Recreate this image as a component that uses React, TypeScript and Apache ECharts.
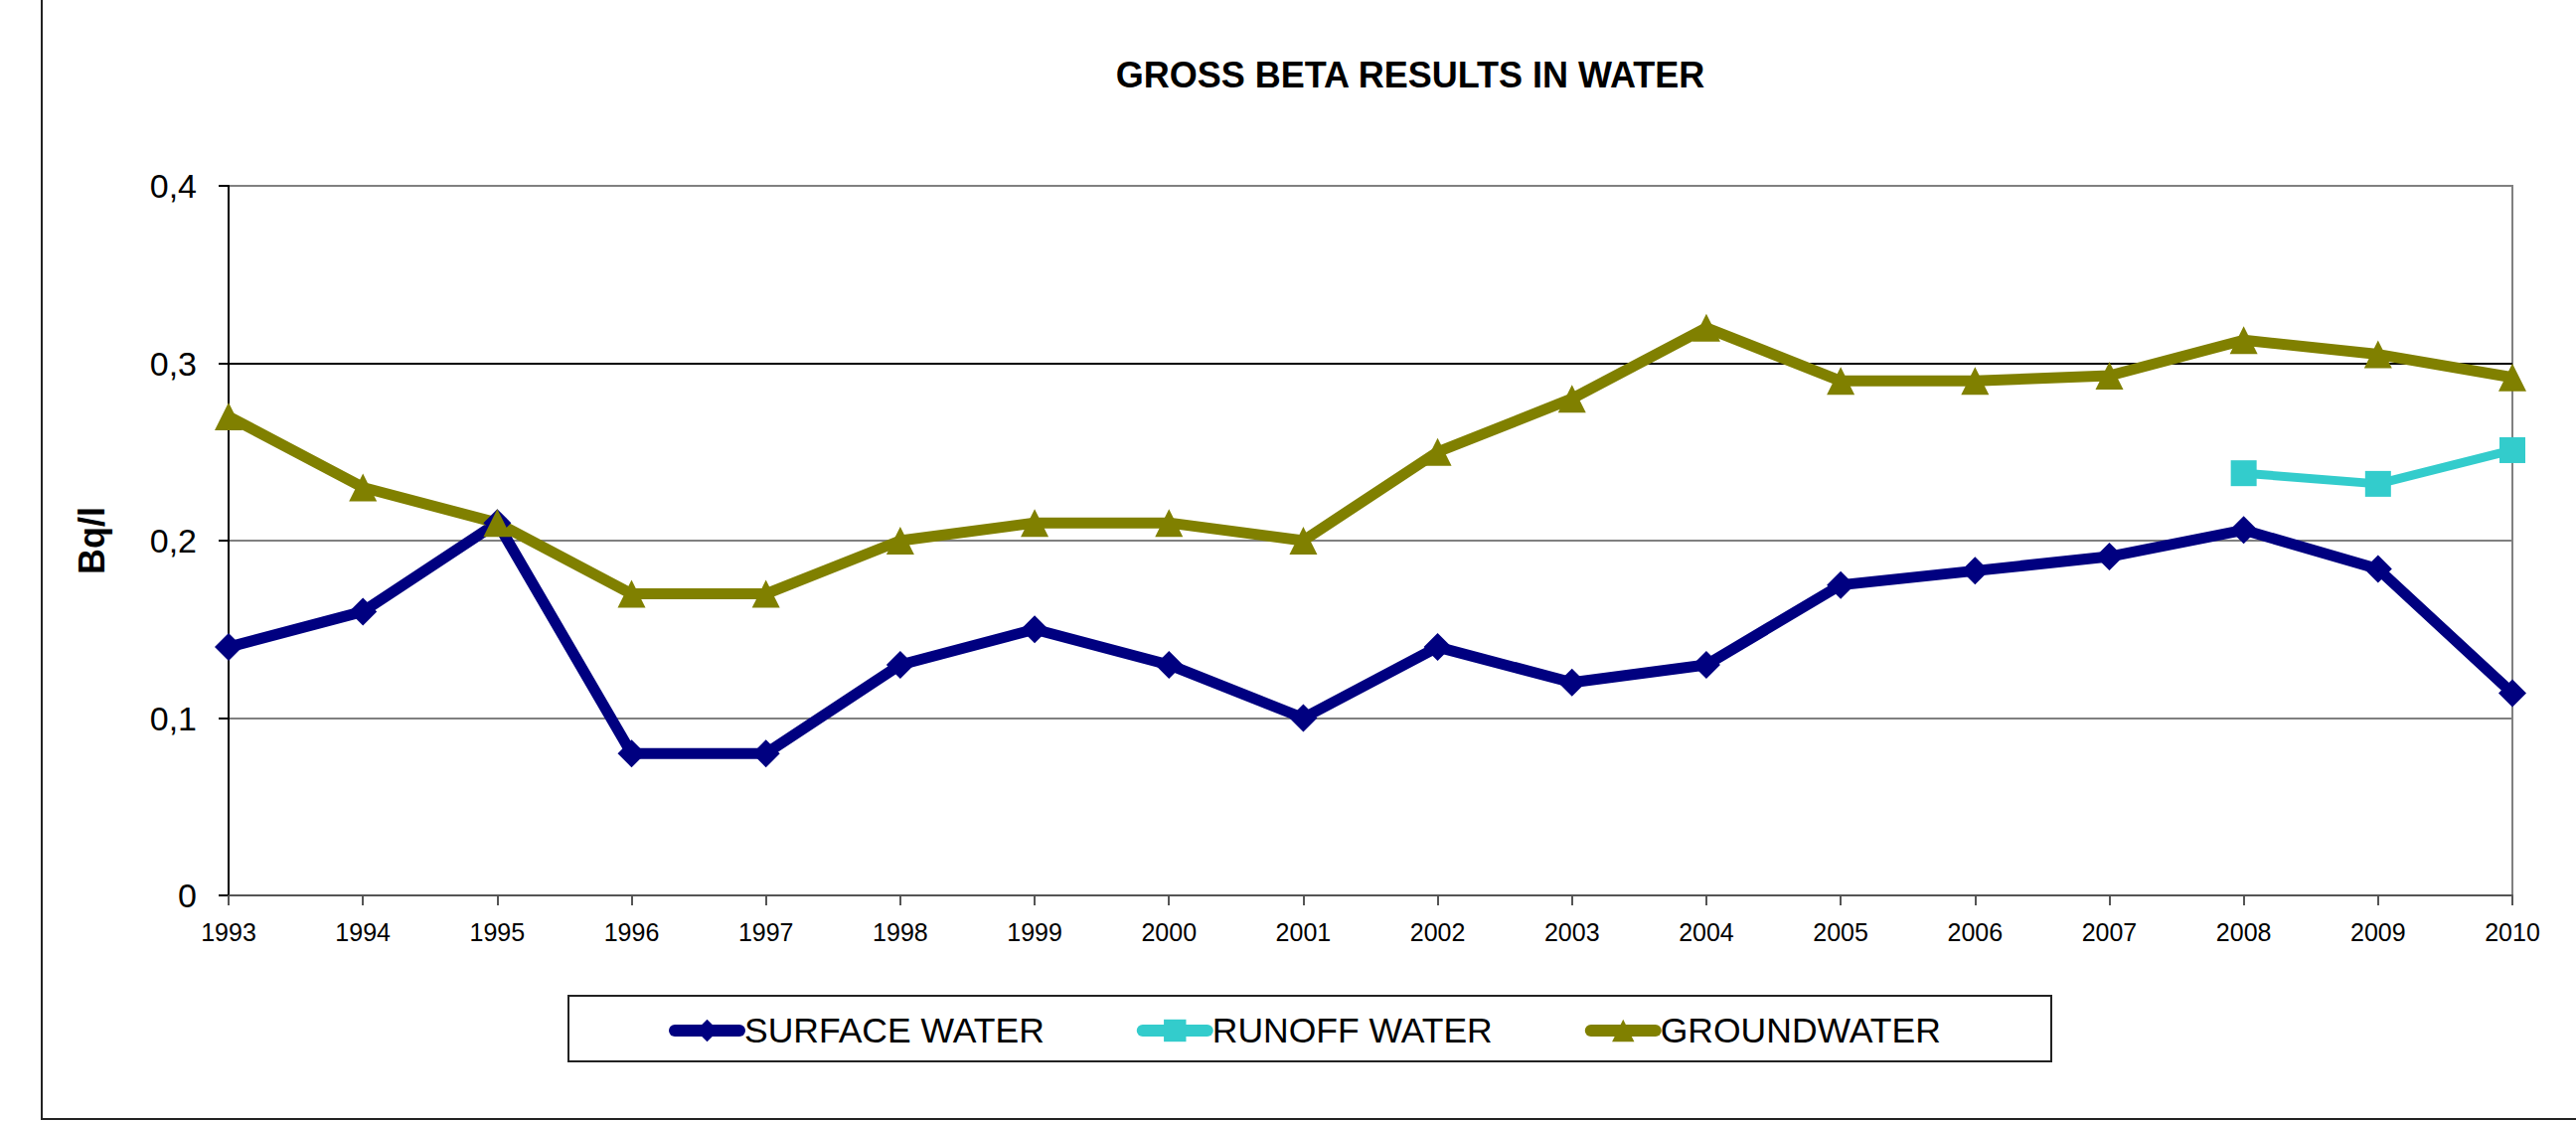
import React, { useEffect, useRef } from "react";
import * as echarts from "echarts";

const years = ["1993","1994","1995","1996","1997","1998","1999","2000","2001","2002","2003","2004","2005","2006","2007","2008","2009","2010"];
const surfaceWater = [0.14, 0.16, 0.21, 0.08, 0.08, 0.13, 0.15, 0.13, 0.10, 0.14, 0.12, 0.13, 0.175, 0.183, 0.191, 0.206, 0.184, 0.114];
const runoffWater = [null, null, null, null, null, null, null, null, null, null, null, null, null, null, null, 0.238, 0.232, 0.251];
const groundwater = [0.27, 0.23, 0.21, 0.17, 0.17, 0.20, 0.21, 0.21, 0.20, 0.25, 0.28, 0.32, 0.29, 0.29, 0.293, 0.313, 0.305, 0.292];
const yTicks = ["0", "0,1", "0,2", "0,3", "0,4"];

const FONT = "'Liberation Sans', Arial, sans-serif";

export default function App() {
  const ref = useRef<HTMLDivElement>(null);
  useEffect(() => {
    if (!ref.current) return;
    const chart = echarts.init(ref.current, null, { renderer: "svg" });
    chart.setOption({
      animation: false,
      backgroundColor: "#ffffff",
      title: {
        text: "GROSS BETA RESULTS IN WATER",
        left: 1414,
        top: 70,
        textAlign: "center",
        textVerticalAlign: "middle",
        textStyle: { fontFamily: FONT, fontSize: 36, fontWeight: "bold", color: "#000" },
      },
      grid: {
        left: 230,
        right: 64,
        top: 187,
        bottom: 227,
        show: true,
        borderColor: "#808080",
        borderWidth: 2,
        containLabel: false,
      },
      legend: {
        left: 668,
        top: 1014,
        itemWidth: 65,
        itemHeight: 28,
        itemGap: 93,
        lineStyle: { width: 12, cap: "round" },
        textStyle: { fontFamily: FONT, fontSize: 35.5, color: "#000" },
        data: ["SURFACE WATER", "RUNOFF WATER", "GROUNDWATER"],
      },
      xAxis: {
        type: "category",
        data: years,
        boundaryGap: false,
        axisLine: { lineStyle: { color: "#555555", width: 2 } },
        axisTick: { show: true, length: 10, lineStyle: { color: "#555555", width: 2 } },
        axisLabel: { fontFamily: FONT, fontSize: 25, color: "#000", margin: 24 },
        splitLine: { show: false },
      },
      yAxis: {
        type: "value",
        min: 0,
        max: 0.4,
        interval: 0.1,
        axisLine: { show: true, lineStyle: { color: "#000", width: 2 } },
        axisTick: { show: true, length: 10, lineStyle: { color: "#000", width: 2 } },
        axisLabel: {
          fontFamily: FONT,
          fontSize: 34,
          color: "#000",
          margin: 32,
          formatter: (v: number) => yTicks[Math.round(v * 10)] ?? String(v),
        },
        splitLine: {
          show: true,
          lineStyle: { color: ["#808080", "#808080", "#808080", "#000000", "#808080"], width: 2 },
        },
      },
      graphic: [
        {
          type: "rect",
          shape: { x: 42, y: -10, width: 2600, height: 1136 },
          style: { fill: "none", stroke: "#222", lineWidth: 2 },
          silent: true,
        },
        {
          type: "rect",
          shape: { x: 572, y: 1002, width: 1492, height: 66 },
          style: { fill: "none", stroke: "#222", lineWidth: 2 },
          silent: true,
        },
        {
          type: "text",
          x: 92,
          y: 544,
          rotation: Math.PI / 2,
          style: {
            text: "Bq/l",
            align: "center",
            verticalAlign: "middle",
            font: "bold 36px " + FONT,
            fill: "#000",
          },
        },
      ],
      series: [
        {
          name: "SURFACE WATER",
          type: "line",
          data: surfaceWater,
          symbol: "diamond",
          symbolSize: 28,
          lineStyle: { color: "#000080", width: 11 },
          itemStyle: { color: "#000080" },
        },
        {
          name: "RUNOFF WATER",
          type: "line",
          data: runoffWater,
          symbol: "rect",
          symbolSize: 26,
          lineStyle: { color: "#33CCCC", width: 9 },
          itemStyle: { color: "#33CCCC" },
        },
        {
          name: "GROUNDWATER",
          type: "line",
          data: groundwater,
          symbol: "triangle",
          symbolSize: 28,
          lineStyle: { color: "#808000", width: 11 },
          itemStyle: { color: "#808000" },
        },
      ],
    });
    return () => chart.dispose();
  }, []);
  return (
    <div
      ref={ref}
      style={{ position: "absolute", left: 0, top: 0, width: 2592, height: 1128 }}
    />
  );
}
